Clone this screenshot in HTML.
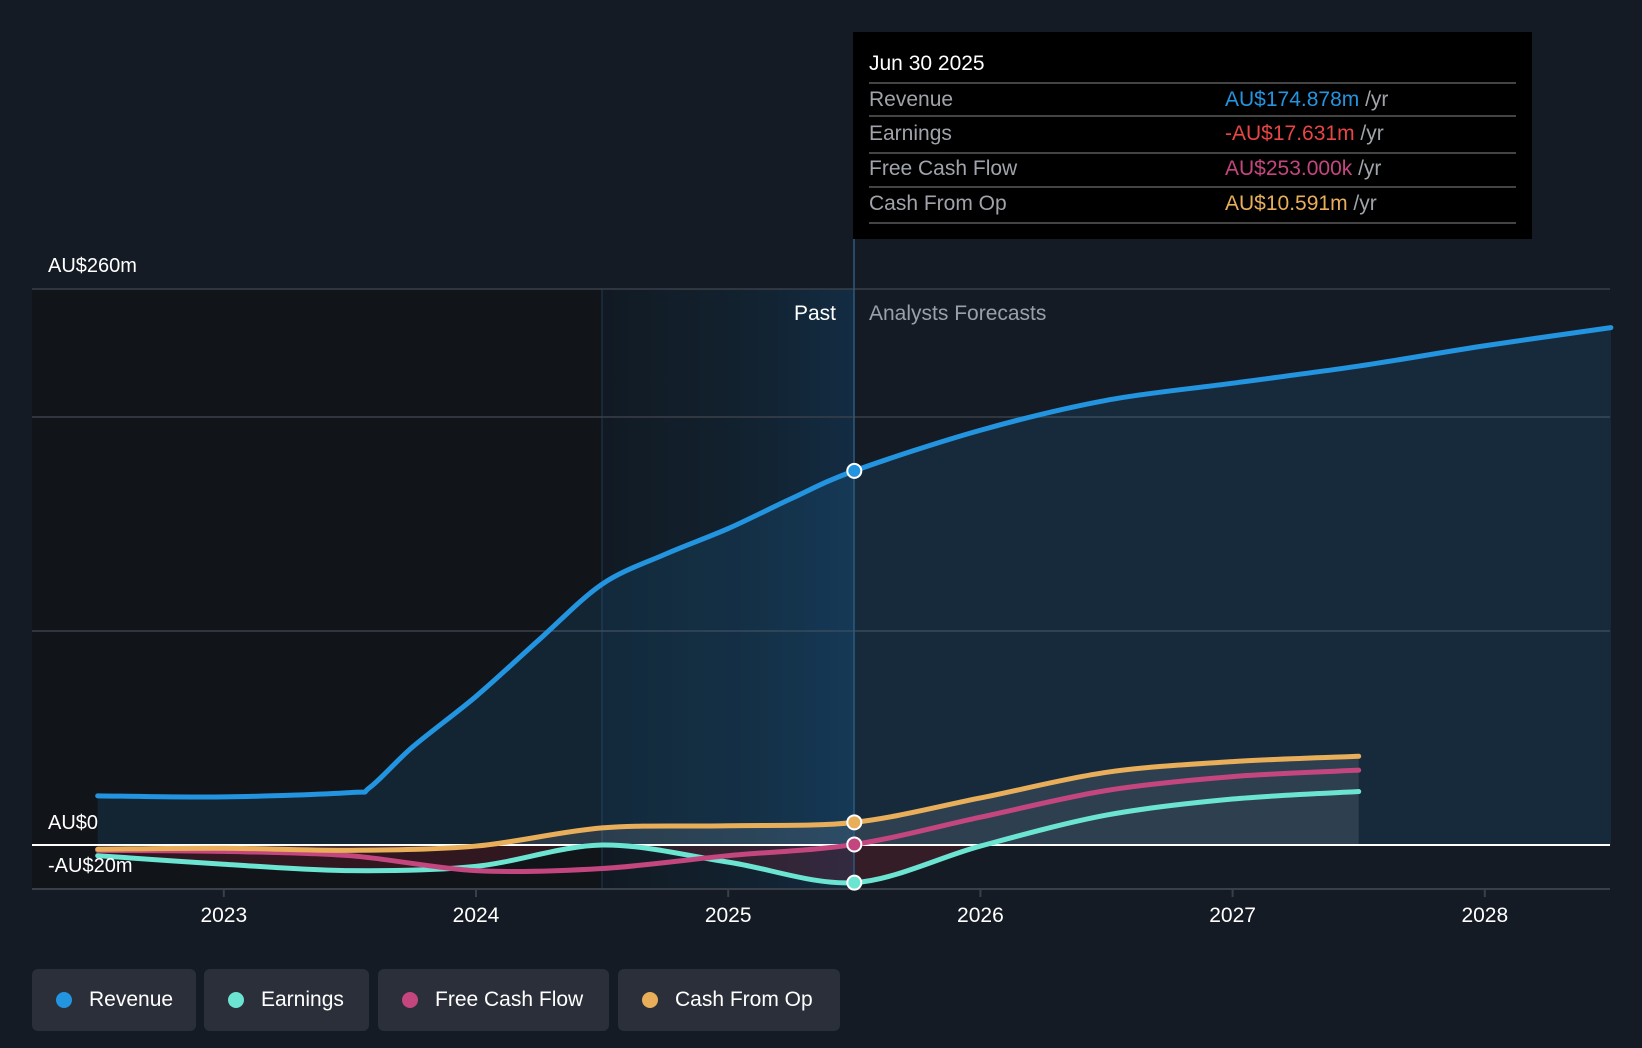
<!DOCTYPE html>
<html><head><meta charset="utf-8"><style>
body{margin:0;background:#151b24;width:1642px;height:1048px;overflow:hidden;font-family:"Liberation Sans",sans-serif;}
svg{position:absolute;left:0;top:0}
.leg{position:absolute;top:969px;height:62px;background:#2a2f39;border-radius:6px;color:#fff;font-size:21px;display:flex;align-items:center;box-sizing:border-box;padding-left:24px}
.leg i{width:16px;height:16px;border-radius:50%;display:inline-block;margin-right:17px}
</style></head><body>
<svg id="chart" width="1642" height="1048"></svg>
<div class="leg" style="left:32px;width:164px"><i style="background:#2394df"></i>Revenue</div>
<div class="leg" style="left:204px;width:165px"><i style="background:#6be4d2"></i>Earnings</div>
<div class="leg" style="left:378px;width:231px"><i style="background:#c4467f"></i>Free Cash Flow</div>
<div class="leg" style="left:618px;width:222px"><i style="background:#e8ae5a"></i>Cash From Op</div>
<script>
const revX=[2022.5,2023,2023.5,2023.58,2023.75,2024,2024.25,2024.5,2024.75,2025,2025.25,2025.5,2026,2026.5,2027,2027.5,2028,2028.5];
const revY=[23,22.5,24.5,27,46,69.5,96,122,136,148,162,175,194,208,216,224,233.5,242];
const earnX=[2022.5,2023,2023.5,2024,2024.5,2025,2025.5,2026,2026.5,2027,2027.5];
const earnY=[-5,-9,-12,-10,0,-8,-17.6,-0.5,14,21.5,25];
const fcfY=[-2.5,-3,-5,-12,-11,-5,0.25,13,25.5,32,35];
const cfoY=[-2,-1.5,-2.5,-0.5,8,9,10.6,22,34,39,41.5];
const xTicks=[2023,2024,2025,2026,2027,2028];
const NS='http://www.w3.org/2000/svg';
const svg=document.getElementById('chart');
const X=v=>476+(v-2024)*252.2;
const Y=v=>845-v*2.138;
function el(t,a,p){const e=document.createElementNS(NS,t);for(const k in a)e.setAttribute(k,a[k]);(p||svg).appendChild(e);return e;}
function path(xs,ys){const p=xs.map((x,i)=>[X(x),Y(ys[i])]);let d='M'+p[0][0]+','+p[0][1];
for(let i=0;i<p.length-1;i++){const p0=p[i-1]||p[i],p1=p[i],p2=p[i+1],p3=p[i+2]||p2;const t=0.16;
d+=` C${p1[0]+(p2[0]-p0[0])*t},${p1[1]+(p2[1]-p0[1])*t} ${p2[0]-(p3[0]-p1[0])*t},${p2[1]-(p3[1]-p1[1])*t} ${p2[0]},${p2[1]}`;}return d;}
const defs=el('defs',{});
const g=el('linearGradient',{id:'pg',x1:0,x2:1,y1:0,y2:0},defs);
el('stop',{offset:0,'stop-color':'#111a23'},g);el('stop',{offset:0.6,'stop-color':'#122230'},g);el('stop',{offset:1,'stop-color':'#132c43'},g);
const cp=el('clipPath',{id:'neg'},defs);el('rect',{x:0,y:845,width:1642,height:100},cp);
let r=el('rect',{x:32,y:289,width:570,height:600,fill:'#111419'});
r=el('rect',{x:602,y:289,width:252,height:600,fill:'url(#pg)'});
el('line',{x1:602,x2:602,y1:289,y2:889,stroke:'#1f3a52'});
[289,417,631].forEach(y=>{const l=el('line',{x1:32,x2:1610,y1:y,y2:y,stroke:'#3a404a','stroke-width':1.5});});
el('line',{x1:32,x2:1610,y1:889,y2:889,stroke:'#3a404a','stroke-width':2});
xTicks.forEach(t=>{el('line',{x1:X(t),x2:X(t),y1:889,y2:897,stroke:'#3a404a','stroke-width':2});
const tx=el('text',{x:X(t),y:922,fill:'#fff','font-size':21,'text-anchor':'middle'});tx.textContent=t;});
const z=Y(0);
const a1=el('path',{d:path(revX,revY)+` L${X(2028.5)},${z} L${X(2022.5)},${z} Z`,fill:'rgba(35,148,223,0.13)'});
el('path',{d:path(earnX,cfoY)+` L${X(2027.5)},${z} L${X(2022.5)},${z} Z`,fill:'rgba(255,255,255,0.1)'});
el('path',{d:path(earnX,earnY)+` L${X(2027.5)},${z} L${X(2022.5)},${z} Z`,fill:'rgba(200,40,60,0.18)','clip-path':'url(#neg)'});
el('line',{x1:32,x2:1610,y1:z,y2:z,stroke:'#fff','stroke-width':2});
const series=[['earnings-line',earnX,earnY,'#6be4d2'],['free-cash-flow-line',earnX,fcfY,'#c4467f'],['cash-from-op-line',earnX,cfoY,'#e8ae5a'],['revenue-line',revX,revY,'#2394df']];
series.forEach(s=>{const p=el('path',{d:path(s[1],s[2]),fill:'none',stroke:s[3],'stroke-width':5,'stroke-linecap':'round'});});
el('line',{x1:854,x2:854,y1:239,y2:889,stroke:'#2c5a7e','stroke-width':1.5});
series.forEach(s=>{const i=s[1].indexOf(2025.5);const c=el('circle',{cx:X(2025.5),cy:Y(s[2][i]),r:7,fill:s[3],stroke:'#fff','stroke-width':2});});
function txt(x,y,s,fill,size,name,anchor){const t=el('text',{x,y,fill,'font-size':size,'text-anchor':anchor||'start'});t.textContent=s;return t;}
txt(48,272,'AU$260m','#fff',20,'y-label-top');
txt(48,829,'AU$0','#fff',20,'y-label-zero');
txt(48,872,'-AU$20m','#fff',20,'y-label-bottom');
txt(836,320,'Past','#fff',21,'past-label','end');
txt(869,320,'Analysts Forecasts','#9aa0a8',21,'forecast-label');
const tb=el('rect',{x:853,y:32,width:679,height:207,fill:'#000'});
txt(869,70,'Jun 30 2025','#fff',21,'tooltip-date');
[83,116,153,187,223].forEach(y=>el('line',{x1:869,x2:1516,y1:y,y2:y,stroke:'#444','stroke-width':2}));
const rows=[['Revenue','AU$174.878m','#2394df'],['Earnings','-AU$17.631m','#e84545'],['Free Cash Flow','AU$253.000k','#c4467f'],['Cash From Op','AU$10.591m','#e8ae5a']];
const ry=[106,140,175,210];
rows.forEach((r,i)=>{txt(869,ry[i],r[0],'#a0a4aa',21,'tooltip-label');const t=txt(1225,ry[i],r[1],r[2],21,'tooltip-value');const s=el('tspan',{fill:'#a0a4aa'},t);s.textContent=' /yr';});
</script>
</body></html>
